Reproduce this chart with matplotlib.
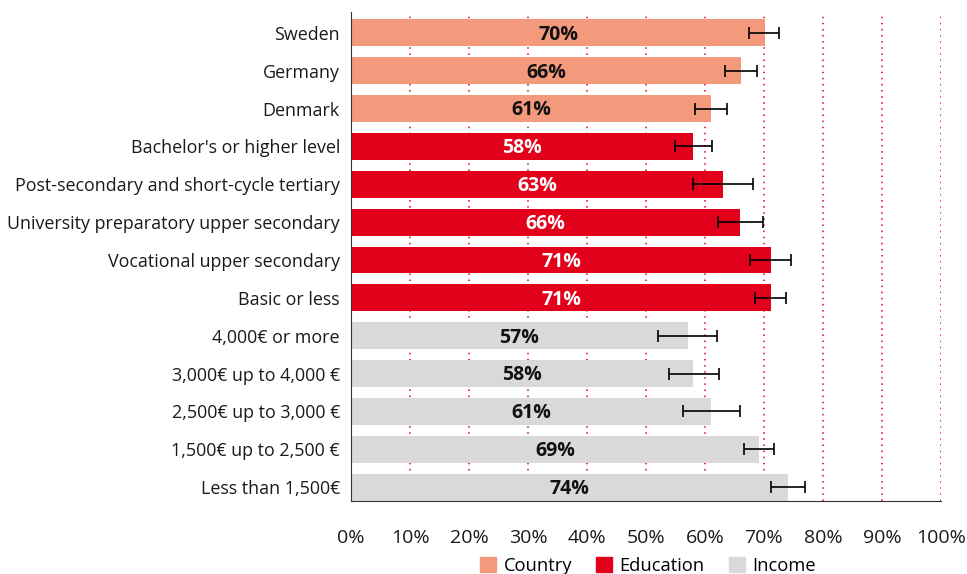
import numpy as np
import matplotlib.pyplot as plt
from matplotlib.patches import Patch

plt.rcParams['font.family'] = ['Open Sans', 'DejaVu Sans']

# data
labels = ["Sweden", "Germany", "Denmark",
          "Bachelor's or higher level", "Post-secondary and short-cycle tertiary",
          "University preparatory upper secondary", "Vocational upper secondary",
          "Basic or less",
          "4,000€ or more", "3,000€ up to 4,000 €", "2,500€ up to 3,000 €",
          "1,500€ up to 2,500 €", "Less than 1,500€"]
values = [70.2, 66.1, 61.0, 58.0, 63.0, 66.0, 71.2, 71.2, 57.1, 58.0, 61.0, 69.2, 74.0]
err_low = [67.5, 63.4, 58.3, 54.9, 58.0, 62.2, 67.6, 68.5, 52.0, 53.9, 56.2, 66.6, 71.2]
err_high = [72.6, 68.8, 63.8, 61.2, 68.1, 69.8, 74.6, 73.7, 62.1, 62.3, 66.0, 71.7, 77.0]
groups = ["Country"] * 3 + ["Education"] * 5 + ["Income"] * 5

colors = {"Country": "#F39A7C", "Education": "#E2001A", "Income": "#D9D9D9"}
text_colors = {"Country": "#111111", "Education": "white", "Income": "#111111"}

fig = plt.figure(figsize=(9.67, 5.74), dpi=100)
ax = fig.add_axes([0.363, 0.127, 0.61, 0.852])

y = np.arange(len(labels))
vals = np.array(values)
xerr = [vals - np.array(err_low), np.array(err_high) - vals]

for x in range(10, 101, 10):
    ax.axvline(x, color="#E2001A", linestyle=(0, (1, 3)), linewidth=1.1, zorder=0)

ax.barh(y, vals, height=0.71, color=[colors[g] for g in groups], zorder=2)
ax.errorbar(vals, y, xerr=xerr, fmt="none", ecolor="black", elinewidth=1.2,
            capsize=4, capthick=1.2, zorder=3)

for yi, v, g in zip(y, vals, groups):
    ax.text(v / 2, yi + 0.05, "%d%%" % round(v), ha="center", va="center",
            fontsize=14, fontweight="bold", color=text_colors[g], zorder=4)

ax.set_xlim(0, 100)
ax.set_ylim(12.37, -0.55)
ax.set_yticks(y)
ax.set_yticklabels(labels, fontsize=12.9, color="#1a1a1a")
ax.set_xticks(range(0, 101, 10))
ax.set_xticklabels(["%d%%" % t for t in range(0, 101, 10)], fontsize=14, color="#1a1a1a")
ax.tick_params(axis="y", length=0, pad=8)
ax.tick_params(axis="x", length=0, pad=20)

ax.spines["top"].set_visible(False)
ax.spines["right"].set_visible(False)
ax.spines["left"].set_color("#333333")
ax.spines["bottom"].set_color("#333333")

handles = [Patch(color=colors[k]) for k in ["Country", "Education", "Income"]]
fig.legend(handles, ["Country", "Education", "Income"], loc="lower center",
           bbox_to_anchor=(0.67, -0.03), ncol=3, frameon=False, fontsize=13.2,
           handlelength=0.9, handleheight=0.9, handletextpad=0.4, columnspacing=1.3)

fig.savefig("out.png", dpi=100)
